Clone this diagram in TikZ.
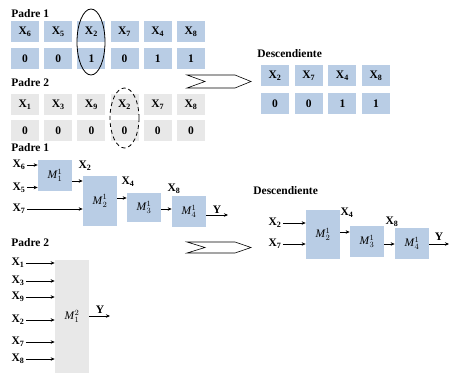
\documentclass[tikz,border=0pt]{standalone}
\usepackage{fontspec}
\setmainfont{Liberation Serif}
\usetikzlibrary{arrows.meta}
\definecolor{azul}{HTML}{B9CDE5}
\definecolor{gris}{HTML}{E8E8E8}
\newcommand{\xg}[1]{X\textsubscript{#1}}
\newcommand{\mm}[2]{\textit{M}${}^{#2}_{#1}$}
\begin{document}
\begin{tikzpicture}
[x=1pt,y=-1pt,>={Stealth[length=4pt,width=3.5pt]},line width=0.7pt,%
  every node/.style={inner sep=1pt,font=\bfseries\fontsize{11.5}{13}\selectfont},
  gen/.style={minimum width=28pt,minimum height=21pt,inner sep=0pt},
  mod/.style={fill=azul,minimum width=34pt,inner sep=0pt,font=\normalfont\fontsize{11.5}{13}\selectfont},
  chev/.style={line width=0.6pt}]
\useasboundingbox (0,0) rectangle (449,374);
% cromosomas
\node[anchor=west] (t1) at (10,14) {Padre 1};
\foreach \g/\v [count=\k from 0] in {6/0,5/0,2/1,7/0,4/1,8/1}{
  \node[gen,fill=azul] (pa\k) at (25+33.2*\k,32) {\xg{\g}};
  \node[gen,fill=azul] (va\k) at (25+33.2*\k,59) {\v};
}
\node[anchor=west] (t2) at (10,83) {Padre 2};
\foreach \g/\v [count=\k from 0] in {1/0,3/0,9/0,2/0,7/0,8/0}{
  \node[gen,fill=gris] (pb\k) at (25+33.2*\k,104.5) {\xg{\g}};
  \node[gen,fill=gris] (vb\k) at (25+33.2*\k,131) {\v};
}
\draw[thick] (91,42) ellipse [x radius=14, y radius=33];
\draw[thick,dash pattern=on 4pt off 3pt] (124.5,118) ellipse [x radius=14.5, y radius=30];
\draw[chev] (187,75) -- (235,75) -- (251,81.5) -- (235,88) -- (187,88) -- (205,81.5) -- cycle;
\node[anchor=west] (t5) at (256,54) {Descendiente};
\foreach \g/\v [count=\k from 0] in {2/0,7/0,4/1,8/1}{
  \node[gen,fill=azul] (pd\k) at (275+33.7*\k,76) {\xg{\g}};
  \node[gen,fill=azul] (vd\k) at (275+33.7*\k,104) {\v};
}
% modelos padre 1
\node[anchor=west] (t3) at (10,148) {Padre 1};
\node[mod,minimum height=31pt] (m11) at (55,175.5) {\mm{1}{1}};
\node[mod,minimum height=50pt] (m21) at (100,201) {\mm{2}{1}};
\node[mod,minimum height=29pt] (m31) at (144,207.5) {\mm{3}{1}};
\node[mod,minimum height=31pt] (m41) at (189,211.5) {\mm{4}{1}};
\node (a6) at (19,165) {\xg{6}};
\node (a5) at (19,187.5) {\xg{5}};
\node (a7) at (19,209) {\xg{7}};
\node (a2) at (85,166) {\xg{2}};
\node (a4) at (128,182) {\xg{4}};
\node (a8) at (174,189) {\xg{8}};
\node (ay) at (217,210) {Y};
\coordinate (y1) at (228,215);
\draw[->] (a6) -- (a6 -| m11.west);
\draw[->] (a5) -- (a5 -| m11.west);
\draw[->] (a7) -- (a7 -| m21.west);
\draw[->] (m11.east |- 0,181) -- (m21.west |- 0,181);
\draw[->] (m21.east |- 0,198) -- (m31.west |- 0,198);
\draw[->] (m31.east |- 0,209) -- (m41.west |- 0,209);
\draw[->] (m41.east |- y1) -- (y1);
% modelo padre 2
\node[anchor=west] (t4) at (10,243) {Padre 2};
\node[mod,fill=gris,minimum height=113pt] (m12) at (72,316.5) {\mm{1}{2}};
\foreach \g/\y in {1/263,3/281,9/297,2/320,7/342,8/359}{
  \node (b\g) at (18,\y) {\xg{\g}};
  \draw[->] (b\g) -- (b\g -| m12.west);
}
\node (by) at (100,310) {Y};
\coordinate (y2) at (110,316);
\draw[->] (m12.east |- y2) -- (y2);
% descendiente
\draw[chev] (187,242) -- (235,242) -- (251,247.5) -- (235,253) -- (187,253) -- (205,247.5) -- cycle;
\node[anchor=west] (t6) at (252,191) {Descendiente};
\node[mod,minimum height=49pt] (d2) at (323,234.5) {\mm{2}{1}};
\node[mod,minimum height=31pt] (d3) at (367,241.5) {\mm{3}{1}};
\node[mod,minimum height=31pt] (d4) at (412,243.5) {\mm{4}{1}};
\node (c2) at (275,223) {\xg{2}};
\node (c7) at (275,244) {\xg{7}};
\node (c4) at (347,213) {\xg{4}};
\node (c8) at (392,222) {\xg{8}};
\node (cy) at (439,237) {Y};
\coordinate (y3) at (449,244);
\draw[->] (c2) -- (c2 -| d2.west);
\draw[->] (c7) -- (c7 -| d2.west);
\draw[->] (d2.east |- 0,232) -- (d3.west |- 0,232);
\draw[->] (d3.east |- 0,244) -- (d4.west |- 0,244);
\draw[->] (d4.east |- y3) -- (y3);
\end{tikzpicture}
\end{document}
